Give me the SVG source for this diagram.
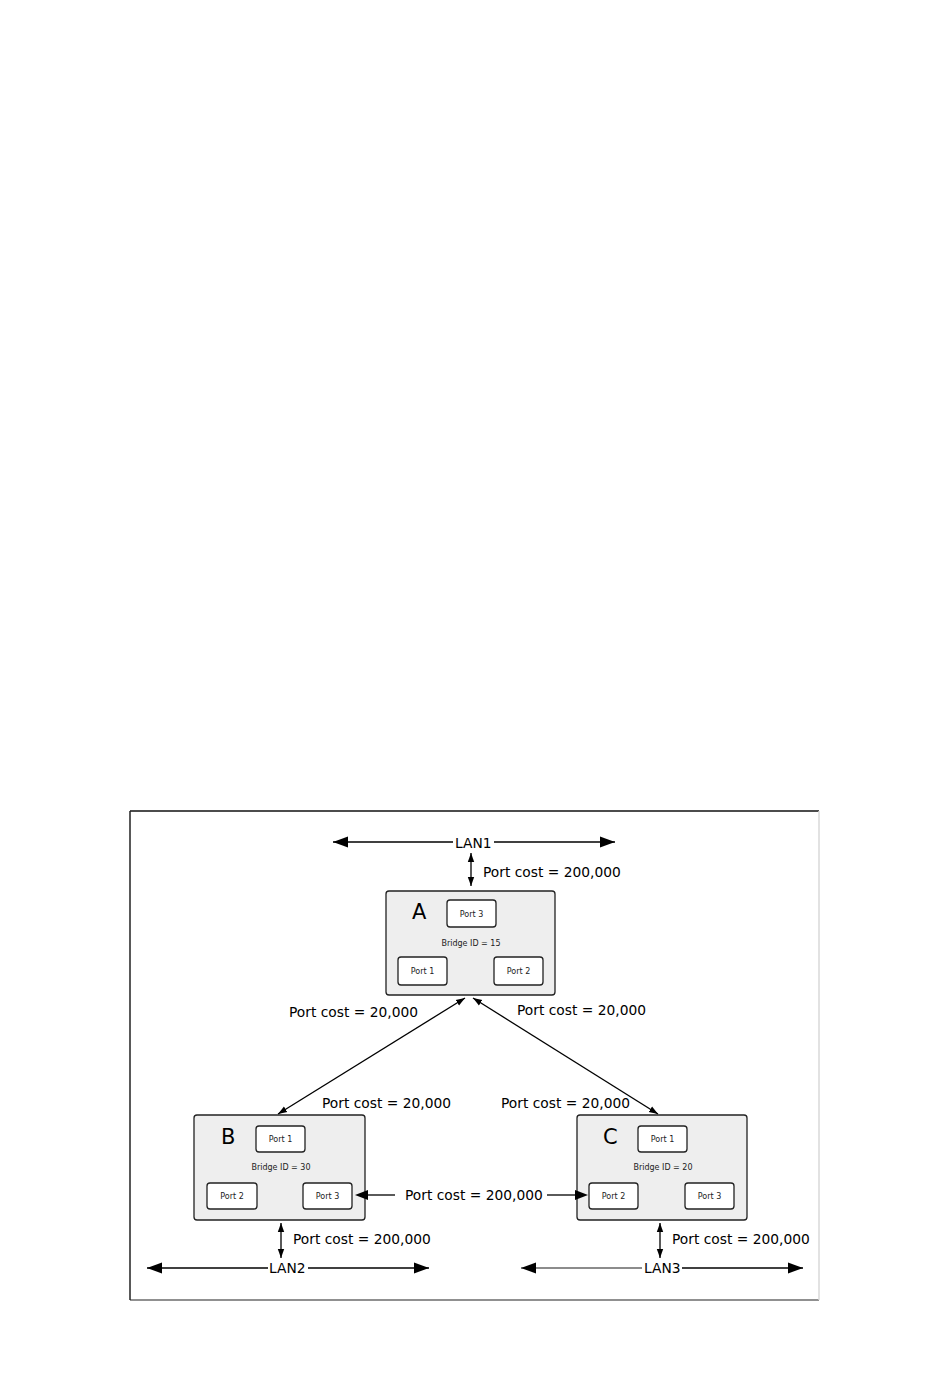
<svg xmlns="http://www.w3.org/2000/svg" width="950" height="1387" viewBox="0 0 950 1387">
<defs>
<style>
.lbl{font-family:"DejaVu Sans","Liberation Sans",sans-serif;font-size:13.8px;fill:#000}
.big{font-family:"DejaVu Sans","Liberation Sans",sans-serif;font-size:21px;fill:#000}
.sm{font-family:"DejaVu Sans","Liberation Sans",sans-serif;font-size:8px;fill:#222;text-anchor:middle}
.bridge{fill:#eeeeee;stroke:#222;stroke-width:1.3}
.port{fill:#fff;stroke:#222;stroke-width:1.3}
.ln{stroke:#000;stroke-width:1.3;fill:none}
.head{fill:#000}
</style>
<marker id="bigHead" markerUnits="userSpaceOnUse" markerWidth="16" markerHeight="12" refX="15" refY="6" orient="auto-start-reverse">
<path d="M0,0.5 L15,6 L0,11.5 Z" fill="#000"/>
</marker>
<marker id="smHead" markerUnits="userSpaceOnUse" markerWidth="10" markerHeight="8" refX="9" refY="4" orient="auto-start-reverse">
<path d="M0,0.8 L9,4 L0,7.2 Z" fill="#000"/>
</marker>
</defs>
<rect width="950" height="1387" fill="#fff"/>
<g id="frame">
<line x1="130" y1="811" x2="819" y2="811" stroke="#111" stroke-width="1.5"/>
<line x1="130" y1="811" x2="130" y2="1300" stroke="#222" stroke-width="1.5"/>
<line x1="130" y1="1300" x2="819" y2="1300" stroke="#222" stroke-width="1.2"/>
<line x1="819" y1="811" x2="819" y2="1300" stroke="#d8d8d8" stroke-width="1.5"/>
</g>
<g id="labels">
<text class="lbl" x="455" y="848">LAN1</text>
<text class="lbl" x="483" y="877">Port cost = 200,000</text>
<text class="lbl" x="289" y="1017">Port cost = 20,000</text>
<text class="lbl" x="517" y="1015">Port cost = 20,000</text>
<text class="lbl" x="322" y="1108">Port cost = 20,000</text>
<text class="lbl" x="501" y="1108">Port cost = 20,000</text>
<text class="lbl" x="405" y="1200">Port cost = 200,000</text>
<text class="lbl" x="293" y="1244">Port cost = 200,000</text>
<text class="lbl" x="672" y="1244">Port cost = 200,000</text>
<text class="lbl" x="269" y="1273">LAN2</text>
<text class="lbl" x="644" y="1273">LAN3</text>
</g>
<g id="bridgeA">
<rect class="bridge" x="386" y="891" width="169" height="104" rx="3"/>
<text class="big" x="412" y="919">A</text>
<rect class="port" x="447" y="900" width="49" height="27" rx="3"/>
<text class="sm" x="471.5" y="916.5">Port 3</text>
<text class="sm" x="471" y="946">Bridge ID = 15</text>
<rect class="port" x="398" y="957" width="49" height="28" rx="3"/>
<text class="sm" x="422.5" y="974">Port 1</text>
<rect class="port" x="494" y="957" width="49" height="28" rx="3"/>
<text class="sm" x="518.5" y="974">Port 2</text>
</g>
<g id="bridgeB">
<rect class="bridge" x="194" y="1115" width="171" height="105" rx="3"/>
<text class="big" x="221" y="1144">B</text>
<rect class="port" x="256" y="1126" width="49" height="26" rx="3"/>
<text class="sm" x="280.5" y="1142">Port 1</text>
<text class="sm" x="281" y="1170">Bridge ID = 30</text>
<rect class="port" x="207" y="1183" width="50" height="26" rx="3"/>
<text class="sm" x="232" y="1199">Port 2</text>
<rect class="port" x="303" y="1183" width="49" height="26" rx="3"/>
<text class="sm" x="327.5" y="1199">Port 3</text>
</g>
<g id="bridgeC">
<rect class="bridge" x="577" y="1115" width="170" height="105" rx="3"/>
<text class="big" x="603" y="1144">C</text>
<rect class="port" x="638" y="1126" width="49" height="26" rx="3"/>
<text class="sm" x="662.5" y="1142">Port 1</text>
<text class="sm" x="663" y="1170">Bridge ID = 20</text>
<rect class="port" x="589" y="1183" width="49" height="26" rx="3"/>
<text class="sm" x="613.5" y="1199">Port 2</text>
<rect class="port" x="685" y="1183" width="49" height="26" rx="3"/>
<text class="sm" x="709.5" y="1199">Port 3</text>
</g>
<g id="connectors">
<line class="ln" x1="453" y1="842" x2="333" y2="842" marker-end="url(#bigHead)"/>
<line class="ln" x1="494" y1="842" x2="615" y2="842" marker-end="url(#bigHead)"/>
<line class="ln" x1="471" y1="853" x2="471" y2="886" marker-start="url(#smHead)" marker-end="url(#smHead)"/>
<line class="ln" x1="465" y1="998" x2="278" y2="1114" marker-start="url(#smHead)" marker-end="url(#smHead)"/>
<line class="ln" x1="473" y1="998" x2="658" y2="1114" marker-start="url(#smHead)" marker-end="url(#smHead)"/>
<line class="ln" x1="395" y1="1195" x2="365" y2="1195"/>
<polygon class="head" points="355,1195 368,1190 368,1200"/>
<line class="ln" x1="547" y1="1195" x2="578" y2="1195"/>
<polygon class="head" points="588,1195 575,1190 575,1200"/>
<line class="ln" x1="281" y1="1223" x2="281" y2="1258" marker-start="url(#smHead)" marker-end="url(#smHead)"/>
<line class="ln" x1="660" y1="1223" x2="660" y2="1258" marker-start="url(#smHead)" marker-end="url(#smHead)"/>
<line class="ln" x1="268" y1="1268" x2="147" y2="1268" marker-end="url(#bigHead)"/>
<line class="ln" x1="308" y1="1268" x2="429" y2="1268" marker-end="url(#bigHead)"/>
<line x1="642" y1="1268" x2="521" y2="1268" stroke="#666" stroke-width="1.3" marker-end="url(#bigHead)"/>
<line class="ln" x1="682" y1="1268" x2="803" y2="1268" marker-end="url(#bigHead)"/>
</g>
</svg>
